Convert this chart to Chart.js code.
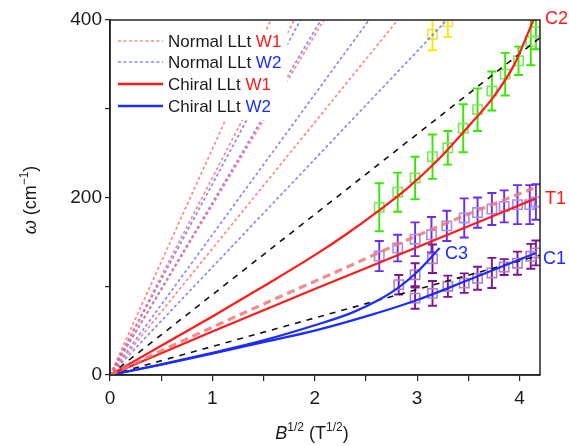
<!DOCTYPE html>
<html><head><meta charset="utf-8">
<script src="https://cdn.jsdelivr.net/npm/chart.js@4.4.0/dist/chart.umd.min.js"></script>
<style>html,body{margin:0;padding:0;background:#fff}#wrap{width:569px;height:446px;position:relative}</style>
</head><body><div id="wrap"><canvas id="c" width="569" height="446"></canvas></div>
<script>
// ---------- data ----------
// Normal LLt lines from the origin: B^1/2 value where each reaches omega = 400
const normalW1Top = [1.57, 1.80, 2.09, 2.81];
const normalW2Top = [1.86, 2.06, 2.53, 3.29];
// black dashed guide lines (end points)
const dashUpperX = [0, 4.2], dashUpperY = [0, 380];
const dashLowerX = [0, 4.2], dashLowerY = [0, 135];
// Chiral LLt W1 curves
const c2X = [0, 0.5, 1.0, 1.5, 2.0, 2.3, 2.6, 2.9, 3.2, 3.5, 3.75, 3.95, 4.1, 4.18];
const c2Y = [0, 33, 66, 100, 135, 158, 183, 210, 242, 280, 314, 350, 390, 412];
const t1X = [0, 1, 2, 3, 4.16];
const t1Y = [0, 49, 97, 144, 199];
// thick light-red dashed curve
const t1dX = [0, 0.72, 1.5, 2.36, 3.0, 3.6, 4.15];
const t1dY = [0, 39, 80, 124, 157, 186, 211];
// Chiral LLt W2 curves
const c1X = [0, 0.5, 1.0, 1.5, 2.0, 2.5, 3.0, 3.5, 4.16];
const c1Y = [0, 11.5, 24, 37, 50, 66, 84.5, 107, 137.5];
const c3X = [0, 0.5, 1.0, 1.5, 2.0, 2.36, 2.6, 2.8, 3.0, 3.22];
const c3Y = [0, 12, 25, 39, 56, 70, 83, 97, 116, 143];
// measured points with error bars
const greenX = [2.63, 2.81, 2.98, 3.15, 3.30, 3.45, 3.59, 3.73, 3.86, 3.99, 4.11, 4.16];
const greenY = [189, 206, 222, 246, 256, 278, 299, 320, 339, 354, 376, 387];
const greenE = [27, 22, 24, 25, 19, 27, 24, 22, 24, 16, 27, 20];
const yellowX = [3.15, 3.30];
const yellowY = [384, 398];
const yellowE = [18, 17];
const violetX = [2.63, 2.81, 2.98, 3.14, 3.29, 3.46, 3.59, 3.73, 3.85, 3.98, 4.10, 4.16];
const violetY = [134, 143, 153, 158, 168, 177, 183, 187, 190, 192, 192, 195];
const violetE = [17, 15, 19, 20, 17, 22, 17, 18, 18, 22, 22, 20];
const purpleX = [2.82, 2.98, 3.15, 2.98, 3.15, 3.30, 3.46, 3.59, 3.73, 3.85, 3.98, 4.11, 4.16];
const purpleY = [101.7, 113, 131, 86.6, 92, 100, 103.5, 109, 115, 121.6, 126, 133.7, 137.5];
const purpleE = [11, 13, 16, 12, 14, 12, 11, 13, 17, 9, 13, 14, 14];
// axis ticks
const xTickLabels = [0, 1, 2, 3, 4];
const yTickLabels = [0, 200, 400];

// ---------- helpers ----------
const pts = (xs, ys) => xs.map((x, i) => ({x, y: ys[i]}));
const FONT = '"Liberation Sans", Arial, Helvetica, sans-serif';
const RED = '#ff1a1a', BLUE = '#1a2cff';
const PINK_D = 'rgba(255,105,105,0.8)', BLUE_D = 'rgba(105,105,255,0.8)';

const datasets = [];
normalW1Top.forEach(t => datasets.push({data: pts([0, t], [0, 400]), borderColor: PINK_D, borderWidth: 1.7, borderDash: [3, 2.5], pointRadius: 0, order: 5}));
normalW2Top.forEach(t => datasets.push({data: pts([0, t], [0, 400]), borderColor: BLUE_D, borderWidth: 1.7, borderDash: [3, 2.5], pointRadius: 0, order: 5}));
datasets.push({data: pts(dashUpperX, dashUpperY), borderColor: '#111', borderWidth: 1.6, borderDash: [6, 6], pointRadius: 0, order: 4});
datasets.push({data: pts(dashLowerX, dashLowerY), borderColor: '#111', borderWidth: 1.6, borderDash: [6, 6], pointRadius: 0, order: 4});
// markers
const mk = (xs, ys, col) => ({data: pts(xs, ys), showLine: false, pointStyle: 'rect', pointRadius: 6.6, pointBorderWidth: 1.6, pointBorderColor: col, pointBackgroundColor: 'rgba(255,255,255,0)', order: 8});
datasets.push(mk(greenX, greenY, '#7fe65a'));
datasets.push(mk(yellowX, yellowY, '#e9e14a'));
datasets.push(mk(violetX, violetY, '#a58cf2'));
datasets.push(mk(purpleX, purpleY, '#b07ec8'));
// curves
const curve = (xs, ys, col, w, dash) => ({data: pts(xs, ys), borderColor: col, borderWidth: w, borderDash: dash || [], pointRadius: 0, cubicInterpolationMode: 'monotone', order: 2});
datasets.push(curve(t1dX, t1dY, 'rgba(240,120,120,0.85)', 3.2, [8, 5]));
datasets.push(curve(c2X, c2Y, RED, 2.2));
datasets.push(curve(t1X, t1Y, RED, 2.2));
datasets.push(curve(c1X, c1Y, BLUE, 2.2));
datasets.push(curve(c3X, c3Y, BLUE, 2.2));

const errSets = [
  {x: greenX, y: greenY, e: greenE, col: '#35e800'},
  {x: yellowX, y: yellowY, e: yellowE, col: '#f7e800'},
  {x: violetX, y: violetY, e: violetE, col: '#6a2df0'},
  {x: purpleX, y: purpleY, e: purpleE, col: '#7d1496'}
];

const errPlugin = {
  id: 'err',
  beforeDatasetsDraw(chart) {
    const {ctx, scales: {x, y}, chartArea: a} = chart;
    ctx.save();
    ctx.beginPath(); ctx.rect(a.left, a.top, a.right - a.left, a.bottom - a.top); ctx.clip();
    errSets.forEach(s => {
      ctx.strokeStyle = s.col; ctx.lineWidth = 1.9;
      s.x.forEach((xv, i) => {
        const px = x.getPixelForValue(xv);
        const p1 = y.getPixelForValue(s.y[i] + s.e[i]);
        const p2 = y.getPixelForValue(s.y[i] - s.e[i]);
        ctx.beginPath();
        ctx.moveTo(px, p1); ctx.lineTo(px, p2);
        ctx.moveTo(px - 4.5, p1); ctx.lineTo(px + 4.5, p1);
        ctx.moveTo(px - 4.5, p2); ctx.lineTo(px + 4.5, p2);
        ctx.stroke();
      });
    });
    ctx.restore();
  }
};

function drawRich(ctx, parts, x, y, align) {
  let w = 0;
  parts.forEach(p => { ctx.font = p.font; w += ctx.measureText(p.t).width; });
  let cx = align === 'center' ? x - w / 2 : x;
  parts.forEach(p => {
    ctx.font = p.font; ctx.fillStyle = p.col || '#1a1a1a';
    ctx.fillText(p.t, cx, y + (p.dy || 0));
    cx += ctx.measureText(p.t).width;
  });
}

const decoPlugin = {
  id: 'deco',
  afterDraw(chart) {
    const {ctx, chartArea: a} = chart;
    ctx.save();
    // frame
    ctx.strokeStyle = '#222'; ctx.lineWidth = 1.5;
    ctx.strokeRect(a.left, a.top, a.right - a.left, a.bottom - a.top);
    // legend
    ctx.fillStyle = '#fff';
    ctx.fillRect(a.left + 1.5, 30, 176, 90);
    const rows = [
      {y: 41, col: PINK_D, dash: [3, 2.5], w: 1.7, a: 'Normal LLt ', b: 'W1', bc: RED},
      {y: 62, col: BLUE_D, dash: [3, 2.5], w: 1.7, a: 'Normal LLt ', b: 'W2', bc: BLUE},
      {y: 84, col: RED, dash: [], w: 2.4, a: 'Chiral LLt ', b: 'W1', bc: RED},
      {y: 106, col: BLUE, dash: [], w: 2.4, a: 'Chiral LLt ', b: 'W2', bc: BLUE}
    ];
    ctx.textBaseline = 'middle';
    rows.forEach(r => {
      ctx.strokeStyle = r.col; ctx.lineWidth = r.w; ctx.setLineDash(r.dash);
      ctx.beginPath(); ctx.moveTo(118, r.y); ctx.lineTo(163, r.y); ctx.stroke();
      ctx.setLineDash([]);
      drawRich(ctx, [{t: r.a, font: '17px ' + FONT}, {t: r.b, font: '17px ' + FONT, col: r.bc}], 168, r.y + 1, 'left');
    });
    // curve labels
    ctx.font = '18px ' + FONT; ctx.textAlign = 'left';
    ctx.fillStyle = RED;
    ctx.fillText('C2', 545, 19);
    ctx.fillText('T1', 545, 199);
    ctx.fillStyle = BLUE;
    ctx.fillText('C3', 445, 254);
    ctx.fillText('C1', 543, 259);
    // axis titles
    ctx.textBaseline = 'alphabetic';
    drawRich(ctx, [
      {t: 'B', font: 'italic 18px ' + FONT},
      {t: '1/2', font: '12px ' + FONT, dy: -8},
      {t: ' (T', font: '18px ' + FONT},
      {t: '1/2', font: '12px ' + FONT, dy: -8},
      {t: ')', font: '18px ' + FONT}
    ], 312, 439, 'center');
    ctx.save();
    ctx.translate(36, 200); ctx.rotate(-Math.PI / 2);
    drawRich(ctx, [
      {t: 'ω', font: 'italic 18px ' + FONT},
      {t: ' (cm', font: '18px ' + FONT},
      {t: '−1', font: '12px ' + FONT, dy: -8},
      {t: ')', font: '18px ' + FONT}
    ], 0, 0, 'center');
    ctx.restore();
    ctx.restore();
  }
};

new Chart(document.getElementById('c'), {
  type: 'scatter',
  data: {datasets},
  options: {
    responsive: false, animation: false, devicePixelRatio: 1,
    showLine: true,
    layout: {padding: {left: 0, right: 29, top: 20, bottom: 0}},
    plugins: {legend: {display: false}, tooltip: {enabled: false}},
    scales: {
      x: {
        type: 'linear', min: 0, max: 4.2,
        afterFit: s => { s.height = 71; },
        afterBuildTicks: s => { s.ticks = [0, 0.5, 1, 1.5, 2, 2.5, 3, 3.5, 4].map(v => ({value: v})); },
        ticks: {autoSkip: false, maxRotation: 0, padding: 6, color: '#1a1a1a', font: {family: FONT, size: 19},
          callback: v => xTickLabels.includes(v) ? String(v) : ''},
        grid: {drawOnChartArea: false, drawTicks: true, tickLength: 6, color: '#222', lineWidth: 1.2},
        border: {color: '#222', width: 1.5}
      },
      y: {
        type: 'linear', min: 0, max: 400,
        afterFit: s => { s.width = 110; },
        afterBuildTicks: s => { s.ticks = [0, 100, 200, 300, 400].map(v => ({value: v})); },
        ticks: {autoSkip: false, padding: 3, color: '#1a1a1a', font: {family: FONT, size: 19},
          callback: v => yTickLabels.includes(v) ? String(v) : ''},
        grid: {drawOnChartArea: false, drawTicks: true, tickLength: 5, color: '#222', lineWidth: 1.2},
        border: {color: '#222', width: 1.5}
      }
    }
  },
  plugins: [errPlugin, decoPlugin]
});
</script>
</body></html>
